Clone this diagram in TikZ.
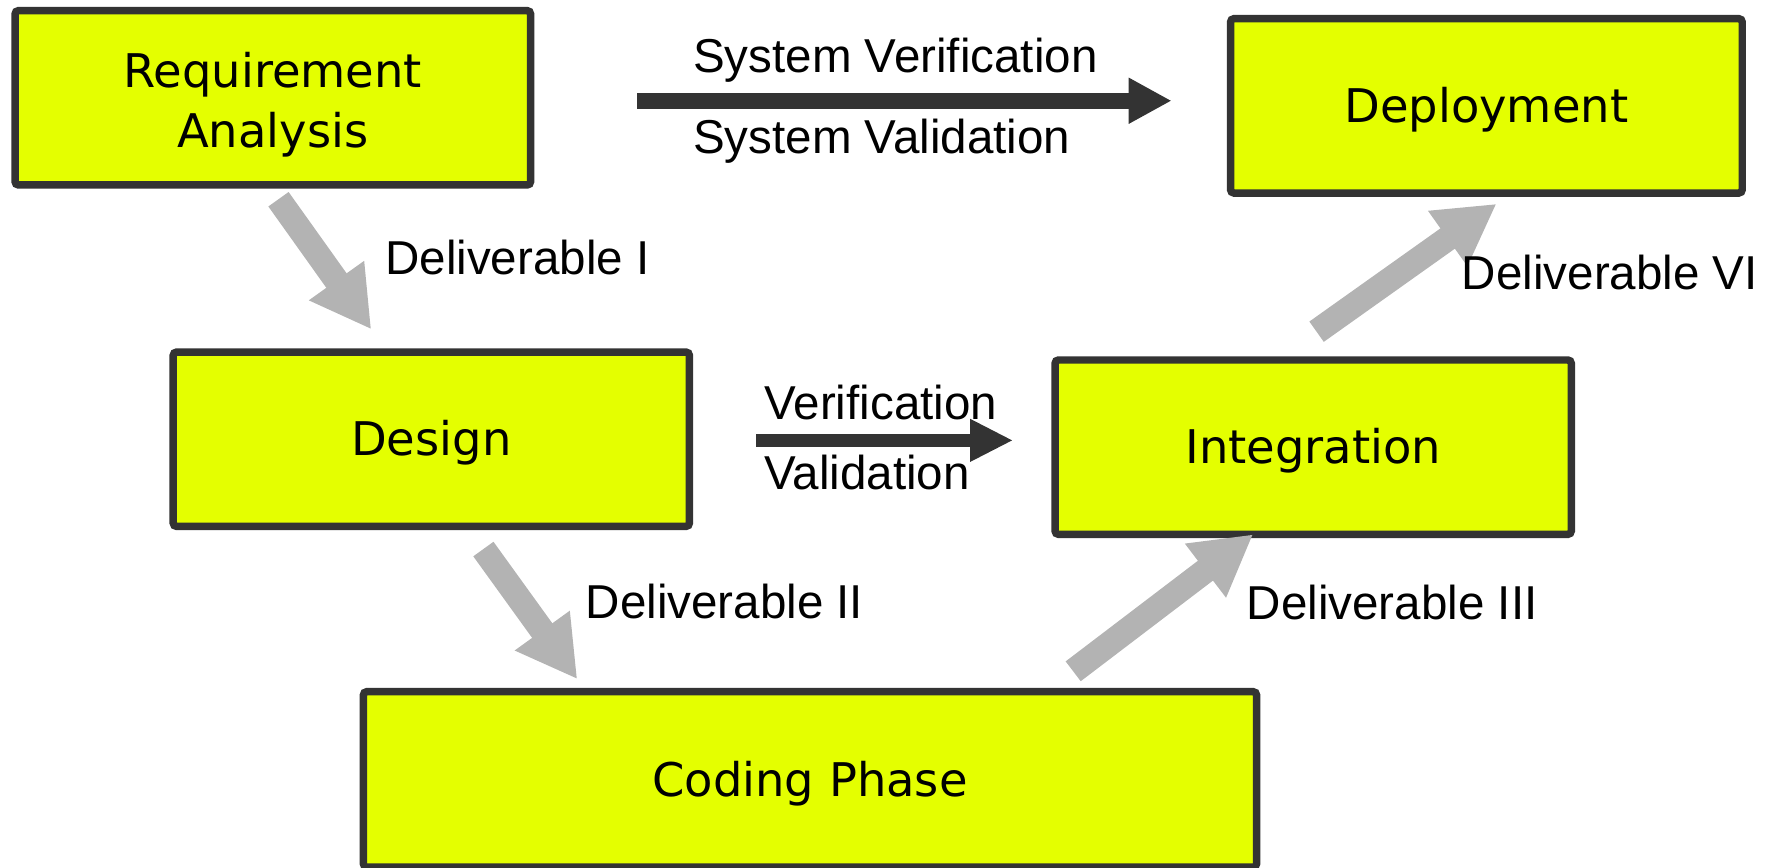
\documentclass[tikz,border=0pt]{standalone}
\usepackage{fontspec}
\setmainfont{Liberation Sans}
\newfontfamily\boxfont{DejaVu Sans}
\usetikzlibrary{arrows.meta,calc}
\definecolor{boxfill}{HTML}{E4FF00}
\definecolor{boxline}{HTML}{333333}
\definecolor{garrowc}{HTML}{B3B3B3}
\tikzset{
  phase/.style={draw=boxline, line width=3.3pt, fill=boxfill, rounded corners=1.5pt,
    inner sep=0pt, outer sep=0pt, minimum width=#1, minimum height=77pt, align=center,
    font=\boxfont\fontsize{20.5pt}{26.5pt}\selectfont},
  phase/.default=228pt,
  oneline/.style={text height=19.6pt, text depth=4.9pt},
  garrow/.style={draw=garrowc, line width=11pt,
    -{Triangle[length=26.5pt,width=28pt]}, garrowc},
  darrowbig/.style={draw=boxline, line width=7pt,
    -{Triangle[length=19pt,width=19pt]}, boxline},
  darrowsmall/.style={draw=boxline, line width=6pt,
    -{Triangle[length=19pt,width=17.5pt]}, boxline},
  lab/.style={anchor=west, inner sep=0pt, font=\fontsize{21pt}{25pt}\selectfont}
}
\begin{document}
\begin{tikzpicture}[x=0.5pt,y=-0.5pt]
\useasboundingbox (0,0) rectangle (1560,766);
% boxes
\node[phase=227.7pt] (ra) at (241,86.4) {\rule{0pt}{22pt}Requirement\\Analysis};
\node[phase=226pt, oneline] (deploy) at (1313,93.5) {Deployment};
\node[phase, oneline] (design) at (381,388) {Design};
\node[phase, oneline] (integ) at (1160,395) {Integration};
\node[phase=394.5pt, minimum height=77.5pt, oneline] (coding) at (715.5,688.5) {Coding Phase};
% gray deliverable arrows
\draw[garrow] ($(ra.south)+(5,12.6)$) -- ($(design.north)+(-53,-20)$);
\draw[garrow] ($(design.south)+(46,20)$) -- ($(coding.north)+(-205.5,-11)$);
\draw[garrow] ($(coding.north)+(232.5,-18)$) -- ($(integ.south)+(-53,0)$);
\draw[garrow] ($(integ.north)+(3,-25)$) -- ($(deploy.south)+(9,9.5)$);
% dark verification arrows
\draw[darrowbig] ($(ra.east)+(94.3,2.6)$) -- ($(deploy.west)+(-52,-4.5)$);
\draw[darrowsmall] ($(design.east)+(59,1)$) -- ($(integ.west)+(-37,-6)$);
% labels
\node[lab] (sysver) at (612,53) {System Verification};
\node[lab] (sysval) at (612,125) {System Validation};
\node[lab] (ver) at (675,355.5) {Verification};
\node[lab] (val) at (675,417.5) {Validation};
\node[lab] (d1) at (340,227.5) {Deliverable I};
\node[lab] (d2) at (517,531.5) {Deliverable II};
\node[lab] (d3) at (1101,532.5) {Deliverable III};
\node[lab] (d6) at (1291,240.5) {Deliverable VI};
\end{tikzpicture}
\end{document}
